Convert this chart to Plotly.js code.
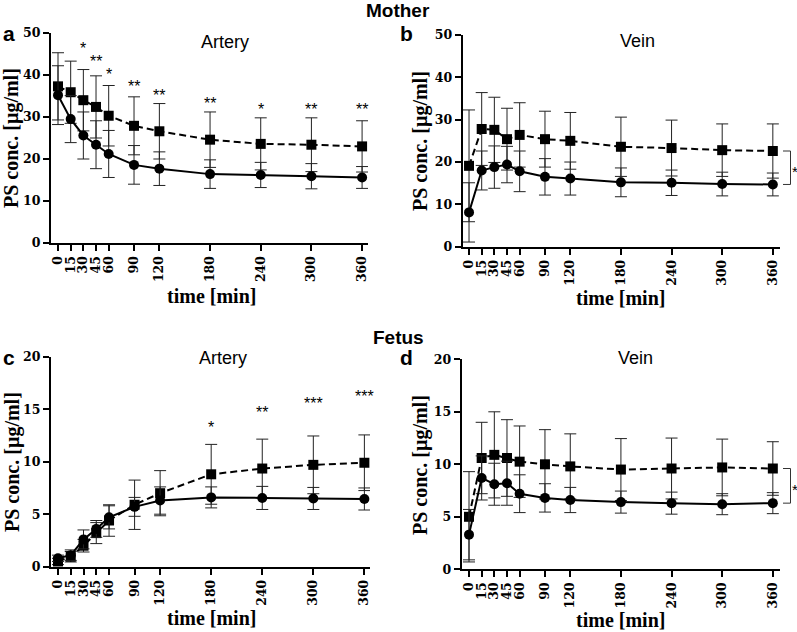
<!DOCTYPE html>
<html>
<head>
<meta charset="utf-8">
<script src="https://cdn.plot.ly/plotly-3.0.1.min.js"></script>
<style>html,body{margin:0;padding:0;background:#fff;}#chart{width:797px;height:632px;}</style>
</head>
<body>
<div id="chart"></div>
<script>
// ---- data ----
const time = [0, 15, 30, 45, 60, 90, 120, 180, 240, 300, 360];
const timeLabels = ['0', '15', '30', '45', '60', '90', '120', '180', '240', '300', '360'];

// a: Mother, Artery
const motherArteryCircle = [35.2, 29.5, 25.6, 23.4, 21.2, 18.6, 17.7, 16.4, 16.2, 15.9, 15.6];
const motherArteryCircleSD = [7.0, 5.6, 5.6, 5.7, 5.6, 4.6, 4.0, 3.4, 3.0, 3.0, 2.6];
const motherArterySquare = [37.3, 35.9, 34.0, 32.4, 30.3, 27.9, 26.6, 24.6, 23.6, 23.4, 23.0];
const motherArterySquareSD = [8.0, 7.4, 7.3, 7.4, 7.2, 6.9, 6.6, 6.6, 6.2, 6.4, 6.1];
const motherArteryStarTimes = [30, 45, 60, 90, 120, 180, 240, 300, 360];
const motherArteryStars = ['*', '**', '*', '**', '**', '**', '*', '**', '**'];
const motherArteryStarY = [47.6, 44.3, 41.4, 38.5, 36.3, 34.3, 32.9, 32.9, 32.9];

// b: Mother, Vein
const motherVeinCircle = [8.1, 18.0, 18.8, 19.4, 17.8, 16.5, 16.1, 15.2, 15.1, 14.8, 14.7];
const motherVeinCircleSD = [7.0, 4.6, 5.0, 4.3, 4.8, 4.3, 3.9, 3.4, 3.0, 2.8, 2.7];
const motherVeinSquare = [19.1, 27.8, 27.6, 25.4, 26.4, 25.4, 25.0, 23.6, 23.3, 22.8, 22.6];
const motherVeinSquareSD = [13.2, 8.6, 7.7, 7.3, 7.6, 6.6, 6.7, 7.0, 6.6, 6.2, 6.4];

// c: Fetus, Artery
const fetusArteryCircle = [0.8, 1.1, 2.6, 3.6, 4.7, 5.7, 6.3, 6.6, 6.55, 6.5, 6.45];
const fetusArteryCircleSD = [0.3, 0.5, 0.9, 0.8, 1.1, 0.9, 1.3, 1.0, 1.1, 1.05, 1.05];
const fetusArterySquare = [0.5, 0.95, 2.0, 3.2, 4.4, 5.9, 7.0, 8.8, 9.35, 9.7, 9.9];
const fetusArterySquareSD = [0.3, 0.5, 0.6, 1.0, 1.5, 2.35, 2.15, 2.85, 2.8, 2.75, 2.65];
const fetusArteryStarTimes = [180, 240, 300, 360];
const fetusArteryStars = ['*', '**', '***', '***'];
const fetusArteryStarY = [13.7, 15.2, 16.0, 16.7];

// d: Fetus, Vein
const fetusVeinCircle = [3.3, 8.7, 8.1, 8.2, 7.2, 6.8, 6.6, 6.4, 6.3, 6.2, 6.3];
const fetusVeinCircleSD = [2.4, 2.1, 2.0, 2.1, 1.8, 1.35, 1.2, 1.05, 1.05, 1.0, 1.0];
const fetusVeinSquare = [5.0, 10.6, 10.9, 10.6, 10.25, 10.0, 9.8, 9.5, 9.6, 9.7, 9.6];
const fetusVeinSquareSD = [4.3, 3.4, 4.1, 3.65, 3.4, 3.3, 3.1, 2.95, 2.9, 2.7, 2.55];

// ---- layout geometry (paper fractions) ----
const W = 797, H = 632;
const px = v => v / W;
const py = v => 1 - v / H;

const panels = [
  {id: '', xd: [px(51), px(368)], yd: [py(243), py(33)], xr: [-8.3, 367], yr: [0, 50], dt: 10,
   c: motherArteryCircle, cs: motherArteryCircleSD, s: motherArterySquare, ss: motherArterySquareSD,
   letter: 'a', letterPos: [9, 34], sub: 'Artery', subPos: [225, 42],
   stars: [motherArteryStarTimes, motherArteryStars, motherArteryStarY], bracket: false,
   xt: [211, 296], yt: [11, 138]},
  {id: '2', xd: [px(462.7), px(780)], yd: [py(246.7), py(35)], xr: [-7.5, 368.5], yr: [0, 50], dt: 10,
   c: motherVeinCircle, cs: motherVeinCircleSD, s: motherVeinSquare, ss: motherVeinSquareSD,
   letter: 'b', letterPos: [407, 34], sub: 'Vein', subPos: [637, 41],
   stars: null, bracket: true, xt: [620, 298], yt: [421, 141]},
  {id: '3', xd: [px(51), px(370)], yd: [py(566.7), py(356.7)], xr: [-8.2, 366.6], yr: [0, 20], dt: 5,
   c: fetusArteryCircle, cs: fetusArteryCircleSD, s: fetusArterySquare, ss: fetusArterySquareSD,
   letter: 'c', letterPos: [9, 357], sub: 'Artery', subPos: [223, 358],
   stars: [fetusArteryStarTimes, fetusArteryStars, fetusArteryStarY], bracket: false,
   xt: [212, 618], yt: [12, 462]},
  {id: '4', xd: [px(461.7), px(780)], yd: [py(569.3), py(359.3)], xr: [-8.65, 368.5], yr: [0, 20], dt: 5,
   c: fetusVeinCircle, cs: fetusVeinCircleSD, s: fetusVeinSquare, ss: fetusVeinSquareSD,
   letter: 'd', letterPos: [407, 357], sub: 'Vein', subPos: [635, 358],
   stars: null, bracket: true, xt: [620, 620], yt: [420, 465]}
];

const serifBold = {family: 'Liberation Serif, Times New Roman, serif', weight: 'bold', color: '#000'};
const tickFont = {family: 'DejaVu Serif, serif', weight: 'bold', color: '#000', size: 12.5};
const sans = 'Liberation Sans, Arial, sans-serif';

const traces = [];
const layout = {
  width: W, height: H,
  margin: {l: 0, r: 0, t: 0, b: 0},
  paper_bgcolor: '#fff', plot_bgcolor: 'rgba(0,0,0,0)',
  showlegend: false,
  annotations: [],
  shapes: []
};

panels.forEach(p => {
  const xa = 'x' + p.id, ya = 'y' + p.id;
  // dashed square series
  traces.push({
    type: 'scatter', mode: 'lines+markers', x: time, y: p.s, xaxis: xa, yaxis: ya,
    line: {color: '#000', width: 2, dash: '7px,4px'},
    marker: {symbol: 'square', size: 10, color: '#000'},
    error_y: {type: 'data', array: p.ss, visible: true, color: '#222', thickness: 1, width: 6},
    cliponaxis: false
  });
  // solid circle series
  traces.push({
    type: 'scatter', mode: 'lines+markers', x: time, y: p.c, xaxis: xa, yaxis: ya,
    line: {color: '#000', width: 2},
    marker: {symbol: 'circle', size: 10, color: '#000'},
    error_y: {type: 'data', array: p.cs, visible: true, color: '#222', thickness: 1, width: 6},
    cliponaxis: false
  });

  const xKey = 'xaxis' + p.id, yKey = 'yaxis' + p.id;
  layout[xKey] = {
    domain: p.xd, range: p.xr, anchor: ya,
    tickmode: 'array', tickvals: time, ticktext: timeLabels, tickangle: -90,
    ticks: 'outside', ticklen: 6, tickwidth: 2, tickcolor: '#000',
    showline: true, linewidth: 2, linecolor: '#000',
    showgrid: false, zeroline: false,
    tickfont: tickFont
  };
  layout[yKey] = {
    domain: p.yd, range: p.yr, anchor: xa, dtick: p.dt, tick0: 0,
    ticks: 'outside', ticklen: 6, tickwidth: 2, tickcolor: '#000',
    showline: true, linewidth: 2, linecolor: '#000',
    showgrid: false, zeroline: false,
    tickfont: tickFont
  };

  // panel letter
  layout.annotations.push({xref: 'paper', yref: 'paper', x: px(p.letterPos[0]), y: py(p.letterPos[1]),
    text: '<b>' + p.letter + '</b>', showarrow: false, xanchor: 'center', yanchor: 'middle',
    font: {family: sans, size: 21, color: '#000'}});
  // subtitle
  layout.annotations.push({xref: 'paper', yref: 'paper', x: px(p.subPos[0]), y: py(p.subPos[1]),
    text: p.sub, showarrow: false, xanchor: 'center', yanchor: 'middle',
    font: {family: sans, size: 18, color: '#000'}});
  // x title
  layout.annotations.push({xref: 'paper', yref: 'paper', x: px(p.xt[0]), y: py(p.xt[1]),
    text: 'time [min]', showarrow: false, xanchor: 'center', yanchor: 'middle',
    font: Object.assign({size: 20}, serifBold)});
  // y title
  layout.annotations.push({xref: 'paper', yref: 'paper', x: px(p.yt[0]), y: py(p.yt[1]),
    text: 'PS conc. [µg/ml]', showarrow: false, xanchor: 'center', yanchor: 'middle', textangle: -90,
    font: Object.assign({size: 20}, serifBold)});

  // significance stars
  if (p.stars) {
    const [st, sl, sy] = p.stars;
    st.forEach((t, i) => {
      layout.annotations.push({xref: xa, yref: ya, x: t, y: sy[i], text: sl[i], showarrow: false,
        xanchor: 'center', yanchor: 'middle', yshift: -5,
        font: {family: sans, size: 16, color: '#000'}});
    });
  }

  // bracket between last points of the two series
  if (p.bracket) {
    const last = time.length - 1;
    const toPaperY = v => p.yd[0] + (v - p.yr[0]) / (p.yr[1] - p.yr[0]) * (p.yd[1] - p.yd[0]);
    const yTop = toPaperY(p.s[last]), yBot = toPaperY(p.c[last]);
    const bx = px(790.5), capx = px(783);
    const ln = {color: '#333', width: 1};
    layout.shapes.push({type: 'line', xref: 'paper', yref: 'paper', x0: bx, x1: bx, y0: yBot, y1: yTop, line: ln});
    layout.shapes.push({type: 'line', xref: 'paper', yref: 'paper', x0: capx, x1: bx, y0: yTop, y1: yTop, line: ln});
    layout.shapes.push({type: 'line', xref: 'paper', yref: 'paper', x0: capx, x1: bx, y0: yBot, y1: yBot, line: ln});
    layout.annotations.push({xref: 'paper', yref: 'paper', x: px(795), y: (yTop + yBot) / 2, text: '*',
      showarrow: false, xanchor: 'center', yanchor: 'middle', yshift: -4,
      font: {family: sans, size: 15, color: '#000'}});
  }
});

// group titles
layout.annotations.push({xref: 'paper', yref: 'paper', x: px(398), y: py(11), text: '<b>Mother</b>',
  showarrow: false, xanchor: 'center', yanchor: 'middle', font: {family: sans, size: 19, color: '#000'}});
layout.annotations.push({xref: 'paper', yref: 'paper', x: px(398), y: py(337), text: '<b>Fetus</b>',
  showarrow: false, xanchor: 'center', yanchor: 'middle', font: {family: sans, size: 19, color: '#000'}});

Plotly.newPlot('chart', traces, layout, {displayModeBar: false, staticPlot: true});
</script>
</body>
</html>
